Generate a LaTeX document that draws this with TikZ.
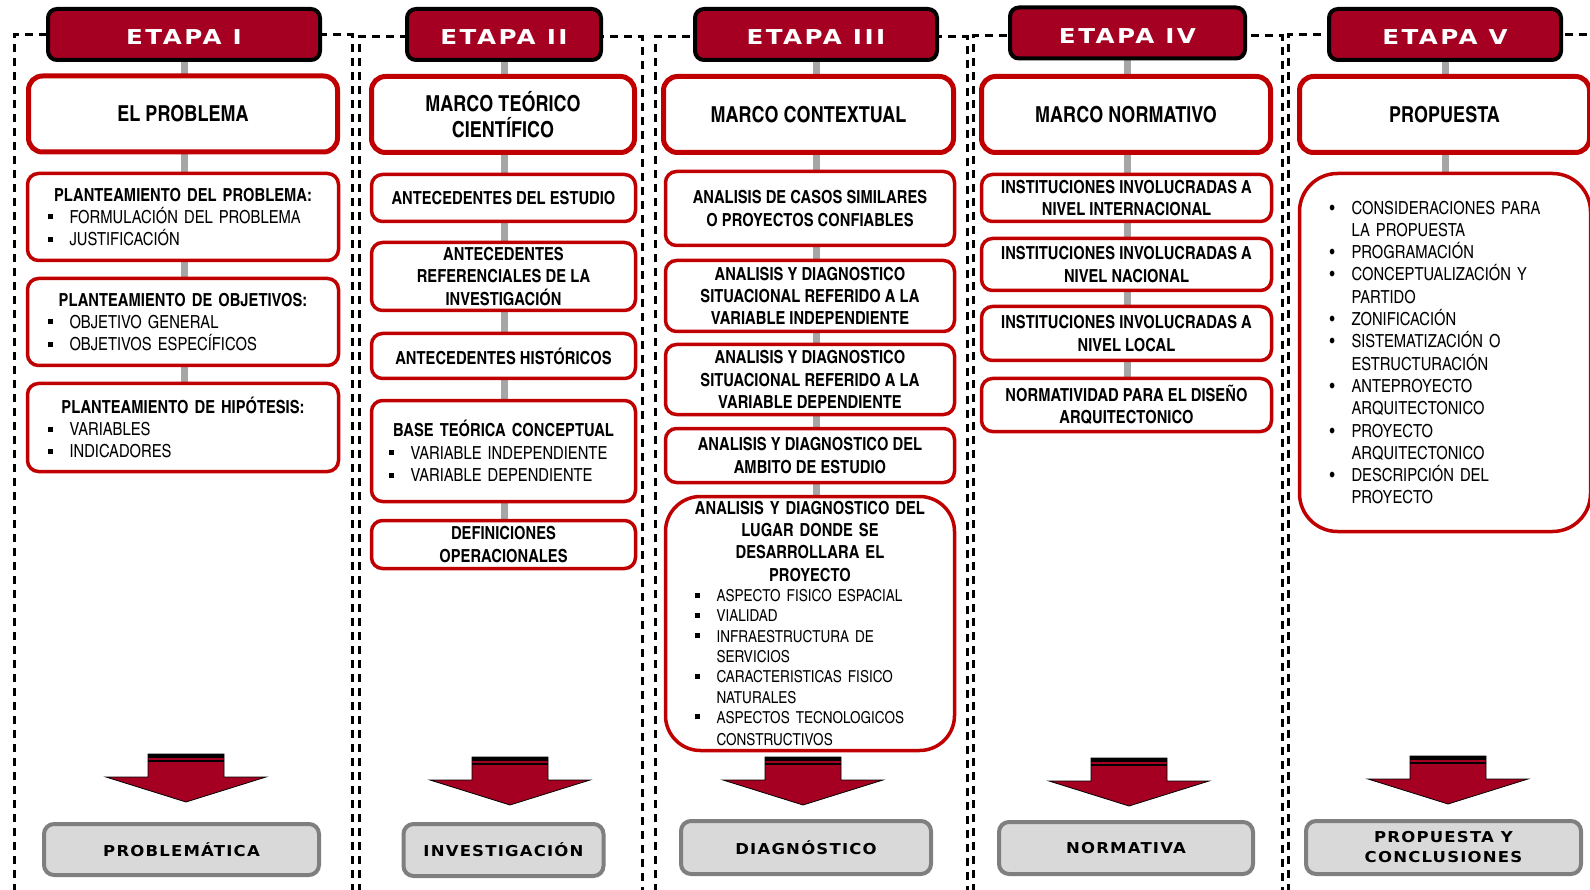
\documentclass[tikz,border=0pt]{standalone}
\usepackage{fontspec}
\setmainfont{texgyreheroscn-regular.otf}[BoldFont=texgyreheroscn-bold.otf]
\newfontfamily\etapafont{DejaVu Sans}[FakeStretch=1.2,LetterSpace=12]
\newfontfamily\resfont{DejaVu Sans}[FakeStretch=1.1,LetterSpace=8]
\usetikzlibrary{backgrounds}

\definecolor{etapared}{HTML}{A50021}
\definecolor{boxred}{HTML}{C00000}
\definecolor{enlacegray}{HTML}{A6A6A6}
\definecolor{resfill}{HTML}{D9D9D9}
\definecolor{resdraw}{HTML}{7F7F7F}

\newcommand{\sqb}{\makebox[22pt][l]{\rule[4pt]{5pt}{5pt}}}
\newcommand{\rdb}{\makebox[22pt][l]{\textbullet}}
\newcommand{\ind}{\hspace*{22pt}}
\newcommand{\hd}[1]{\makebox[\hsize]{\bfseries #1}}

\begin{document}
\begin{tikzpicture}[x=1pt,y=-1pt,
    etapa/.style={draw=black,line width=4pt,fill=etapared,rounded corners=9pt,
      minimum height=51pt,text height=21pt,text depth=0pt,text=white,
      font=\etapafont\bfseries\fontsize{20.5}{24}\selectfont},
    marco/.style={draw=boxred,line width=5pt,fill=white,rounded corners=14pt,
      minimum height=76pt,align=center,font=\bfseries\fontsize{22}{26.5}\selectfont},
    sub/.style={draw=boxred,line width=3.5pt,fill=white,rounded corners=11pt,
      align=center,inner xsep=0pt,inner ysep=2pt,font=\bfseries\fontsize{18}{22.3}\selectfont},
    lista/.style={sub,align=left,font=\fontsize{18}{22.3}\selectfont},
    resultado/.style={draw=resdraw,line width=4pt,fill=resfill,rounded corners=10pt,
      align=center,font=\resfont\bfseries\fontsize{15}{20}\selectfont},
    enlace/.style={draw=enlacegray,line width=7pt},
    marcoext/.style={draw=black,line width=3pt,dash pattern=on 8pt off 6pt},
    flecha/.style={fill=etapared,draw=black,line width=0.8pt}]

  \useasboundingbox (0,0) rectangle (1590,890);

  % etapas
  \node[etapa,minimum width=272pt] (e1) at (184,34.5) {ETAPA I};
  \node[etapa,minimum width=194pt] (e2) at (504,34.5) {ETAPA II};
  \node[etapa,minimum width=242pt] (e3) at (816,34.5) {ETAPA III};
  \node[etapa,minimum width=235pt] (e4) at (1127.5,33) {ETAPA IV};
  \node[etapa,minimum width=232pt] (e5) at (1445,34.5) {ETAPA V};

  \node[marco,minimum width=309pt] (m1) at (183,114) {EL PROBLEMA};
  \node[marco,minimum width=263pt] (m2) at (503,114.5) {MARCO TEÓRICO\\CIENTÍFICO};
  \node[marco,minimum width=290pt] (m3) at (808.5,114.5) {MARCO CONTEXTUAL};
  \node[marco,minimum width=289pt] (m4) at (1126,114.5) {MARCO NORMATIVO};
  \node[marco,minimum width=290pt] (m5) at (1444.5,114.5) {PROPUESTA};

  % etapa I
  \node[lista,minimum width=311pt,minimum height=87pt,text width=271pt] (p1a) at (183,217)
    {\hd{PLANTEAMIENTO DEL PROBLEMA:}\\\sqb FORMULACIÓN DEL PROBLEMA\\\sqb JUSTIFICACIÓN};
  \node[lista,minimum width=311pt,minimum height=87pt,text width=271pt] (p1b) at (183,322)
    {\hd{PLANTEAMIENTO DE OBJETIVOS:}\\\sqb OBJETIVO GENERAL\\\sqb OBJETIVOS ESPECÍFICOS};
  \node[lista,minimum width=311pt,minimum height=88pt,text width=271pt] (p1c) at (183,427.5)
    {\hd{PLANTEAMIENTO DE HIPÓTESIS:}\\\sqb VARIABLES\\\sqb INDICADORES};

  % etapa II
  \node[sub,minimum width=264pt,minimum height=47pt] (p2a) at (503.5,198) {ANTECEDENTES DEL ESTUDIO};
  \node[sub,minimum width=264pt,minimum height=68pt] (p2b) at (503.5,276.5)
    {ANTECEDENTES\\REFERENCIALES DE LA\\INVESTIGACIÓN};
  \node[sub,minimum width=264pt,minimum height=45pt] (p2c) at (503.5,356) {ANTECEDENTES HISTÓRICOS};
  \node[lista,minimum width=264pt,minimum height=101pt,text width=230pt] (p2d) at (503.5,451)
    {\hd{BASE TEÓRICA CONCEPTUAL}\\\sqb VARIABLE INDEPENDIENTE\\\sqb VARIABLE DEPENDIENTE};
  \node[sub,minimum width=264pt,minimum height=48pt] (p2e) at (503.5,544.5) {DEFINICIONES\\OPERACIONALES};

  % etapa III
  \node[sub,minimum width=289pt,minimum height=74pt] (p3a) at (810,208.5)
    {ANALISIS DE CASOS SIMILARES\\O PROYECTOS CONFIABLES};
  \node[sub,minimum width=289pt,minimum height=71pt] (p3b) at (810,296)
    {ANALISIS Y DIAGNOSTICO\\SITUACIONAL REFERIDO A LA\\VARIABLE INDEPENDIENTE};
  \node[sub,minimum width=289pt,minimum height=70pt] (p3c) at (810,379.5)
    {ANALISIS Y DIAGNOSTICO\\SITUACIONAL REFERIDO A LA\\VARIABLE DEPENDIENTE};
  \node[sub,minimum width=289pt,minimum height=54pt] (p3d) at (810,455.5)
    {ANALISIS Y DIAGNOSTICO DEL\\AMBITO DE ESTUDIO};
  \node[lista,minimum width=289pt,minimum height=254pt,text width=231pt,rounded corners=35pt] (p3e) at (810,623.5)
    {\hd{ANALISIS Y DIAGNOSTICO DEL}\\\hd{LUGAR DONDE SE}\\\hd{DESARROLLARA EL}\\\hd{PROYECTO}\\
     \fontsize{16.5}{20.3}\selectfont\sqb ASPECTO FISICO ESPACIAL\\\sqb VIALIDAD\\
     \sqb INFRAESTRUCTURA DE\\\ind SERVICIOS\\\sqb CARACTERISTICAS FISICO\\\ind NATURALES\\
     \sqb ASPECTOS TECNOLOGICOS\\\ind CONSTRUCTIVOS};

  % etapa IV
  \node[sub,minimum width=290pt,minimum height=47pt] (p4a) at (1126.5,198)
    {INSTITUCIONES INVOLUCRADAS A\\NIVEL INTERNACIONAL};
  \node[sub,minimum width=290pt,minimum height=52pt] (p4b) at (1126.5,264.5)
    {INSTITUCIONES INVOLUCRADAS A\\NIVEL NACIONAL};
  \node[sub,minimum width=290pt,minimum height=54pt] (p4c) at (1126.5,333.5)
    {INSTITUCIONES INVOLUCRADAS A\\NIVEL LOCAL};
  \node[sub,minimum width=290pt,minimum height=53pt] (p4d) at (1126.5,405)
    {NORMATIVIDAD PARA EL DISEÑO\\ARQUITECTONICO};

  % etapa V
  \node[lista,minimum width=291pt,minimum height=358pt,text width=231pt,rounded corners=38pt] (p5a) at (1445,352.5)
    {\rdb CONSIDERACIONES PARA\\\ind LA PROPUESTA\\\rdb PROGRAMACIÓN\\
     \rdb CONCEPTUALIZACIÓN Y\\\ind PARTIDO\\\rdb ZONIFICACIÓN\\
     \rdb SISTEMATIZACIÓN O\\\ind ESTRUCTURACIÓN\\\rdb ANTEPROYECTO\\\ind ARQUITECTONICO\\
     \rdb PROYECTO\\\ind ARQUITECTONICO\\\rdb DESCRIPCIÓN DEL\\\ind PROYECTO};

  % resultados
  \node[resultado,minimum width=275pt,minimum height=51pt] (r1) at (181.5,849.5) {PROBLEMÁTICA};
  \node[resultado,minimum width=200pt,minimum height=52pt] (r2) at (503.5,850) {INVESTIGACIÓN};
  \node[resultado,minimum width=250pt,minimum height=53pt] (r3) at (806,847.5) {DIAGNÓSTICO};
  \node[resultado,minimum width=254pt,minimum height=52pt] (r4) at (1126,848) {NORMATIVA};
  \node[resultado,minimum width=275pt,minimum height=53pt] (r5) at (1443.5,847.5) {PROPUESTA Y\\CONCLUSIONES};

  \foreach \cx/\ty in {186/754,510/757,803/757,1129/758,1448/756}{
    \filldraw[flecha] (\cx-38,\ty) -- (\cx+38,\ty) -- (\cx+38,\ty+23) -- (\cx+80,\ty+23)
      -- (\cx,\ty+48) -- (\cx-80,\ty+23) -- (\cx-38,\ty+23) -- cycle;
    \fill[black] (\cx-38,\ty) rectangle (\cx+38,\ty+4);
    \draw[black,line width=1.5pt] (\cx-38,\ty+7) -- (\cx+38,\ty+7);
  }

  \begin{scope}[on background layer]
    \draw[marcoext] (14,892) -- (14,35) -- (352,35) -- (352,892);
    \draw[marcoext] (359,892) -- (359,37) -- (642,37) -- (642,892);
    \draw[marcoext] (655,892) -- (655,37) -- (967,37) -- (967,892);
    \draw[marcoext] (973,892) -- (973,36) -- (1282,36) -- (1282,892);
    \draw[marcoext] (1288,892) -- (1288,35) -- (1600,35);
    \draw[enlace] (e1) -- (e1 |- p1c.north);
    \draw[enlace] (e2) -- (e2 |- p2e.north);
    \draw[enlace] (e3) -- (e3 |- p3e.north);
    \draw[enlace] (e4) -- (e4 |- p4d.north);
    \draw[enlace] (e5) -- (e5 |- p5a.north);
  \end{scope}

\end{tikzpicture}
\end{document}
